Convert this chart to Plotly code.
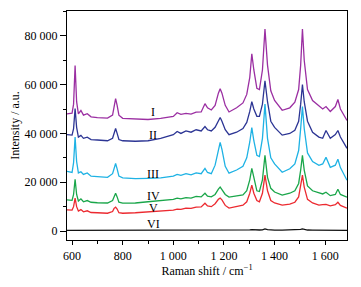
import plotly.graph_objects as go

# Raman shift (cm-1)
shift = [580, 600, 606, 612, 618, 625, 635, 645, 660, 675, 700, 740, 760, 766, 772, 778, 785,
         800, 850, 900, 950, 1000, 1015, 1030, 1050, 1070, 1090, 1110, 1125, 1135, 1150, 1165,
         1178, 1185, 1192, 1205, 1220, 1250, 1275, 1290, 1302, 1310, 1318, 1330, 1340, 1352,
         1362, 1372, 1385, 1400, 1430, 1460, 1480, 1495, 1503, 1510, 1517, 1530, 1550, 1575,
         1590, 1603, 1620, 1640, 1650, 1660, 1686]

series_I = [48000, 48300, 52000, 67800, 53000, 48000, 49400, 47500, 48100, 46800, 46500, 46300, 47500, 51000, 54300, 51500, 47500,
            46200, 45800, 45700, 46200, 47000, 48500, 47800, 48200, 47900, 48700, 48800, 52200, 50500, 49600, 51500,
            56500, 58300, 56500, 51500, 48800, 50500, 52500, 56000, 63000, 72600, 66000, 58500, 58000, 66000,
            82800, 68000, 57500, 53500, 49500, 50500, 52800, 58000, 68000, 82800, 70000, 58000, 53500, 51400,
            50000, 51000, 49000, 51000, 53900, 50000, 45300]

series_II = [39500, 39300, 42000, 50200, 42500, 38500, 39200, 38000, 38500, 37500, 37300, 37000, 38000, 40000, 42000, 40000, 37500,
             37000, 36800, 37000, 38000, 39500, 40800, 40000, 41000, 40500, 41500, 41000, 42800, 41500, 41000, 42500,
             45500, 46500, 45000, 41500, 39500, 40500, 42000, 44500, 49000, 53000, 50000, 47000, 47000, 52000,
             61600, 53000, 45000, 42500, 39300, 40000, 41300, 45000, 52000, 60000, 53000, 45000, 40500, 38500,
             38000, 41200, 38000, 39500, 41200, 38500, 33900]

series_III = [24500, 24000, 28000, 38500, 28500, 23800, 24300, 23200, 23800, 22500, 22300, 22000, 23500, 26000, 27700, 25500, 22500,
              21800, 21500, 21600, 21800, 22500, 23200, 22800, 23500, 23000, 23800, 23500, 25700, 24000, 23500, 27000,
              33500, 36300, 33500, 26500, 23700, 25000, 26500, 30000, 36500, 42400, 37000, 31000, 30500, 38000,
              52000, 38000, 30000, 27500, 24100, 25500, 27500, 33000, 42000, 51000, 42000, 32000, 28500, 26900,
              27500, 30200, 26100, 27000, 29400, 26000, 20800]

series_IV = [12800, 12600, 15000, 21200, 15000, 12300, 13200, 12000, 12500, 11800, 11600, 11500, 12500, 14500, 15500, 14000, 11800,
             11400, 11500, 12000, 12500, 13000, 13500, 13200, 13700, 13500, 14200, 14000, 15500, 14300, 14000, 15000,
             17200, 18000, 17000, 15000, 13900, 14300, 14800, 16500, 21000, 25700, 21500, 16500, 16200, 21000,
             31000, 22000, 17500, 16000, 14700, 15500, 16500, 19500, 25000, 31000, 25000, 18500, 16500, 15500,
             15200, 15900, 14500, 15000, 17100, 15000, 13900]

series_V = [8700, 8600, 10000, 13500, 10000, 8200, 8800, 7900, 8300, 7600, 7500, 7300, 8000, 9300, 9800, 9000, 7500,
            7300, 7500, 7800, 8200, 8600, 9000, 8900, 9400, 9300, 9800, 9900, 11400, 10300, 10000, 11200,
            13000, 13500, 12800, 10500, 9400, 10000, 10600, 12000, 15500, 18800, 15500, 12500, 12000, 15500,
            22900, 16500, 12500, 11500, 10600, 11000, 11800, 14000, 18500, 22900, 18000, 13000, 11500, 10600,
            10800, 10900, 10300, 10800, 11800, 10500, 9400]

series_VI = [300, 300, 320, 420, 320, 300, 300, 290, 300, 290, 280, 280, 290, 300, 330, 300, 280,
             270, 260, 260, 270, 280, 290, 290, 300, 300, 300, 300, 330, 310, 300, 320,
             380, 420, 380, 320, 300, 320, 340, 380, 480, 600, 500, 420, 420, 520,
             850, 550, 420, 380, 340, 350, 380, 460, 650, 850, 600, 420, 380, 350,
             350, 380, 340, 350, 400, 340, 300]

names = ["I", "II", "III", "IV", "V", "VI"]
colors = ["#9b2fa2", "#2c3594", "#1eb2e4", "#1aa64a", "#ec2a30", "#111111"]
label_x = [920, 920, 920, 920, 920, 920]
label_y = [48800, 39300, 23300, 14200, 9500, 3000]

y_tickvals = [0, 20000, 40000, 60000, 80000]
y_ticktext = ["0", "20 000", "40 000", "60 000", "80 000"]
x_tickvals = [600, 800, 1000, 1200, 1400, 1600]
x_ticktext = ["600", "800", "1 000", "1 200", "1 400", "1 600"]

fig = go.Figure()
all_series = [series_I, series_II, series_III, series_IV, series_V, series_VI]
for name, ys, col in zip(names, all_series, colors):
    fig.add_trace(go.Scatter(x=shift, y=ys, mode="lines", name=name,
                             line=dict(color=col, width=1.3)))

for name, lx, ly in zip(names, label_x, label_y):
    fig.add_annotation(x=lx, y=ly, text=name, showarrow=False,
                       font=dict(family="Liberation Serif", size=12, color="black"))

fig.update_layout(
    width=353, height=279,
    margin=dict(l=57, r=14, t=2, b=47),
    paper_bgcolor="white", plot_bgcolor="white",
    showlegend=False,
    font=dict(family="Liberation Serif", size=12, color="black"),
)
fig.update_xaxes(range=[580, 1686], tickmode="array", tickvals=x_tickvals, ticktext=x_ticktext,
                 ticks="outside", ticklen=4, tickwidth=1, tickcolor="black",
                 minor=dict(tickmode="linear", tick0=600, dtick=100, ticks="outside", ticklen=3, tickcolor="black"),
                 showline=True, linecolor="black", linewidth=1.3, mirror=True,
                 showgrid=False, zeroline=False,
                 title=dict(text="Raman shift / cm<sup>−1</sup>", standoff=2, font=dict(size=12)),
                 tickfont=dict(size=12))
fig.update_yaxes(range=[-3670, 90170], tickmode="array", tickvals=y_tickvals, ticktext=y_ticktext,
                 ticks="outside", ticklen=6, tickwidth=1, tickcolor="black",
                 minor=dict(tickmode="linear", tick0=0, dtick=10000, ticks="outside", ticklen=3, tickcolor="black"),
                 showline=True, linecolor="black", linewidth=1.3, mirror=True,
                 showgrid=False, zeroline=False,
                 title=dict(text="Intensity / a.u.", standoff=6, font=dict(size=12)),
                 tickfont=dict(size=12))

fig.write_html("out.html")
